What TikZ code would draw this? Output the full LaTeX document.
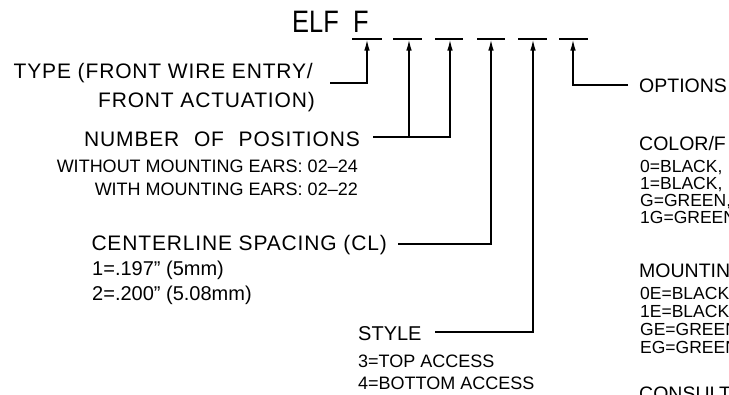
\documentclass[tikz,border=0pt]{standalone}
\usepackage{fontspec}
\setmainfont{Liberation Sans}
\newfontfamily\lsfont[LetterSpace=4]{Liberation Sans}
\usetikzlibrary{arrows.meta}
\tikzset{
  lbl/.style={inner sep=0pt, anchor=base east, font=\lsfont\fontsize{21}{25}\selectfont},
  lblw/.style={inner sep=0pt, anchor=base west, font=\fontsize{19.5}{23}\selectfont},
  sml/.style={inner sep=0pt, font=\fontsize{18}{22}\selectfont},
  num/.style={inner sep=0pt, anchor=base west, font=\fontsize{20}{24}\selectfont},
  rsm/.style={inner sep=0pt, anchor=base west, font=\fontsize{17.5}{18}\selectfont},
  uline/.style={line width=1.4pt},
  arr/.style={line width=1.4pt, -{Latex[length=11pt,width=5.5pt]}},
}
\begin{document}
\begin{tikzpicture}[x=1pt,y=-1pt]
\useasboundingbox (0,0) rectangle (729,394);
\clip (0,0) rectangle (729,394);
\fill[white] (0,0) rectangle (729,394);

% title
\node[inner sep=0pt, anchor=base west, font=\fontsize{31}{31}\selectfont] (elf) at (292,32) {\scalebox{0.82}[1]{ELF}};
\node[inner sep=0pt, anchor=base west, font=\fontsize{31}{31}\selectfont] (f1) at (353,32) {\scalebox{0.82}[1]{F}};

% underline slots
\draw[uline] (352,39) -- (382,39);
\draw[uline] (393,39) -- (422,39);
\draw[uline] (435,39) -- (463,39);
\draw[uline] (477,39) -- (505,39);
\draw[uline] (518,39) -- (547,39);
\draw[uline] (559,39) -- (588,39);

\coordinate (a1) at (367,39.5);
\coordinate (a2) at (409,39.5);
\coordinate (a3) at (450,39.5);
\coordinate (a4) at (491,39.5);
\coordinate (a5) at (533,39.5);
\coordinate (a6) at (573,39.5);

% left labels
\node[lbl] (type1) at (313,78) {TYPE (FRONT WIRE ENTRY/};
\node[lbl] (type2) at (315,107) {FRONT ACTUATION)};
\node[lbl] (npos) at (360,146) {NUMBER\hspace{8pt} OF\hspace{8pt} POSITIONS};
\node[sml, anchor=base east] (npos1) at (358,172) {WITHOUT MOUNTING EARS: 02--24};
\node[sml, anchor=base east] (npos2) at (358,195) {WITH MOUNTING EARS: 02--22};
\node[lbl] (cl) at (387,250) {CENTERLINE SPACING (CL)};
\node[num] (cl1) at (92,275) {1=.197" (5mm)};
\node[num] (cl2) at (92,300) {2=.200" (5.08mm)};
\node[inner sep=0pt, anchor=base west, font=\fontsize{20}{24}\selectfont] (sty) at (358,340) {STYLE};
\node[sml, anchor=base west] (sty1) at (358,367) {3=TOP ACCESS};
\node[sml, anchor=base west] (sty2) at (358,389) {4=BOTTOM ACCESS};

% right column
\node[lblw] (opt) at (639,92) {OPTIONS};
\node[lblw] (col) at (639,150) {COLOR/F};
\node[rsm] (c0) at (640,172) {0=BLACK,};
\node[rsm] (c1) at (640,189) {1=BLACK,};
\node[rsm] (cg) at (640,206) {G=GREEN,};
\node[rsm] (c1g) at (640,223) {1G=GREEN};
\node[lblw] (mnt) at (639,277) {MOUNTIN};
\node[rsm] (m0) at (640,299) {0E=BLACK};
\node[rsm] (m1) at (640,317) {1E=BLACK};
\node[rsm] (mg) at (640,335) {GE=GREEN};
\node[rsm] (me) at (640,353) {EG=GREEN};
\node[lblw] (cons) at (639,400) {CONSULT};

% leaders
\coordinate (t0) at (330,83);
\coordinate (n0) at (373,137);
\coordinate (l0) at (398,244);
\coordinate (s0) at (435,332);
\coordinate (o0) at (628,85);

\draw[arr] (t0) -| (a1);
\draw[arr] (n0) -| (a3);
\draw[arr] (a2 |- n0) -- (a2);
\draw[arr] (l0) -| (a4);
\draw[arr] (s0) -| (a5);
\draw[arr] (o0) -| (a6);
\end{tikzpicture}
\end{document}
